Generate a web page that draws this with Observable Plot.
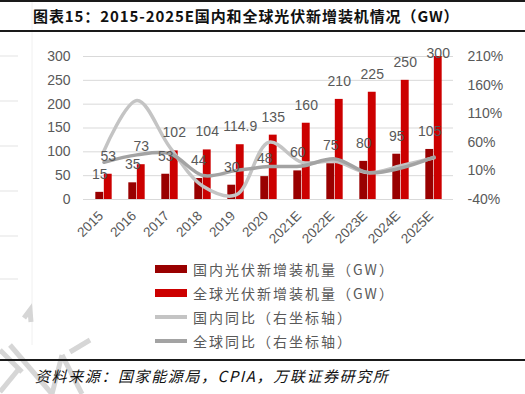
<!DOCTYPE html>
<html><head><meta charset="utf-8">
<script src="https://cdn.jsdelivr.net/npm/d3@7"></script>
<script src="https://cdn.jsdelivr.net/npm/@observablehq/plot@0.6"></script>
<style>
html,body{margin:0;padding:0;background:#fff;}
#wrap{position:relative;width:525px;height:394px;overflow:hidden;background:#fff;font-family:"Noto Sans CJK SC","Liberation Sans",sans-serif;}
#title{position:absolute;left:33px;top:5px;font-size:15px;font-weight:700;letter-spacing:0.9px;color:#111;white-space:nowrap;}
.rule{position:absolute;left:0;width:525px;background:#1a1a1a;}
#chart{position:absolute;left:0;top:40px;}
#legend{position:absolute;left:155px;top:257px;}
.li{position:relative;height:24px;display:flex;align-items:center;font-size:14px;letter-spacing:2px;color:#595959;white-space:nowrap;}
.sw{width:32px;margin-right:6px;}
#source{position:absolute;left:35px;top:365px;font-size:15px;font-style:italic;letter-spacing:1.6px;color:#111;white-space:nowrap;}
#wm{position:absolute;left:0;top:0;}
</style></head>
<body>
<div id="wrap">
<svg id="wm" width="525" height="394">
  <line x1="32" y1="0" x2="32" y2="345" stroke="#f0f0f0" stroke-width="1"/>
  <g stroke="#e3e3e3" stroke-width="1">
    <line x1="0" y1="56" x2="18" y2="56"/><line x1="0" y1="101" x2="18" y2="101"/>
    <line x1="0" y1="146" x2="18" y2="146"/><line x1="0" y1="191" x2="18" y2="191"/>
    <line x1="0" y1="236" x2="18" y2="236"/><line x1="0" y1="279" x2="18" y2="279"/>
  </g>
  <g stroke="#d6d6d6" stroke-width="5" fill="none">
    <polyline points="24,318 30,310 31,322"/>
    <line x1="0" y1="350" x2="22" y2="372"/>
    <line x1="10" y1="345" x2="52" y2="394"/>
    <line x1="52" y1="394" x2="62" y2="355"/>
    <line x1="62" y1="355" x2="82" y2="394"/>
    <line x1="0" y1="392" x2="18" y2="370"/>
    <line x1="70" y1="352" x2="90" y2="340"/>
  </g>
</svg>
<div class="rule" style="top:0;height:2px"></div>
<div id="title">图表15：2015-2025E国内和全球光伏新增装机情况（GW）</div>
<div class="rule" style="top:30px;height:2px"></div>
<div id="chart"></div>
<div id="legend">
  <div class="li"><div class="sw" style="height:8px;background:#990000"></div>国内光伏新增装机量（GW）</div>
  <div class="li"><div class="sw" style="height:8px;background:#cc0000"></div>全球光伏新增装机量（GW）</div>
  <div class="li"><div class="sw" style="height:4px;background:#c4c4c4"></div>国内同比（右坐标轴）</div>
  <div class="li"><div class="sw" style="height:4px;background:#a3a3a3"></div>全球同比（右坐标轴）</div>
</div>
<div class="rule" style="top:359px;height:2px"></div>
<div id="source">资料来源：国家能源局，CPIA，万联证券研究所</div>
</div>
<script>
const years = ["2015","2016","2017","2018","2019","2020","2021E","2022E","2023E","2024E","2025E"];
const domestic = [15,35,53,44,30,48,60,75,80,95,105];
const globalInst = [53,73,102,104,114.9,135,160,210,225,250,300];
const domesticYoY = [45,133,51,-17,-32,60,25,27,7,19,33];
const globalYoY = [25,38,40,2,10.5,17.5,18.5,31,7,15,34];
const leftTicks = [0,50,100,150,200,250,300];
const rightTicks = [-40,10,60,110,160,210];

const rightMin = -40, rightMax = 210, leftMax = 300;
const toLeft = p => (p - rightMin) / (rightMax - rightMin) * leftMax;
const fromLeft = v => v / leftMax * (rightMax - rightMin) + rightMin;

const rows = years.map((y, i) => ({year: y, dom: domestic[i], glo: globalInst[i], dy: domesticYoY[i], gy: globalYoY[i]}));

const W = 525, mL = 83, mR = 72;
const bw = (W - mL - mR) / years.length;
const barW = 8.5;
const labelY = v => Math.min(v + 38, 306);

const chart = Plot.plot({
  width: W, height: 215,
  marginTop: 16, marginBottom: 56, marginLeft: mL, marginRight: mR,
  style: {fontFamily: "'Liberation Sans', Arial, sans-serif", fontSize: "14px", color: "#595959", background: "transparent", overflow: "visible"},
  x: {type: "band", domain: years, padding: 0, label: null},
  y: {domain: [0, 300], label: null},
  marks: [
    Plot.gridY(leftTicks, {stroke: "#d9d9d9", strokeOpacity: 1}),
    Plot.axisY(leftTicks, {anchor: "left", tickSize: 0, tickPadding: 13, fontSize: 14, label: null, fill: "#595959"}),
    Plot.axisY(rightTicks.map(toLeft), {anchor: "right", tickSize: 0, tickPadding: 14, fontSize: 14, label: null, fill: "#595959",
      tickFormat: v => Math.round(fromLeft(v)) + "%"}),
    Plot.axisX({anchor: "bottom", tickRotate: -45, tickSize: 0, tickPadding: 12, dx: -3, dy: 2, fontSize: 13.5, label: null, fill: "#595959"}),
    Plot.barY(rows, {x: "year", y: "dom", fill: "#990000", insetLeft: bw / 2 - barW, insetRight: bw / 2}),
    Plot.barY(rows, {x: "year", y: "glo", fill: "#cc0000", insetLeft: bw / 2, insetRight: bw / 2 - barW}),
    Plot.line(rows, {x: "year", y: d => toLeft(d.dy), stroke: "#c4c4c4", strokeWidth: 3.5, curve: "catmull-rom"}),
    Plot.line(rows, {x: "year", y: d => toLeft(d.gy), stroke: "#a3a3a3", strokeWidth: 3.5, curve: "catmull-rom"}),
    Plot.text(rows, {x: "year", y: d => labelY(d.dom), dx: -barW / 2, text: d => String(d.dom), fill: "#595959", fontSize: 14, lineAnchor: "middle"}),
    Plot.text(rows, {x: "year", y: d => labelY(d.glo), dx: barW / 2, text: d => String(d.glo), fill: "#595959", fontSize: 14, lineAnchor: "middle"})
  ]
});
document.getElementById("chart").appendChild(chart);
</script>
</body></html>
